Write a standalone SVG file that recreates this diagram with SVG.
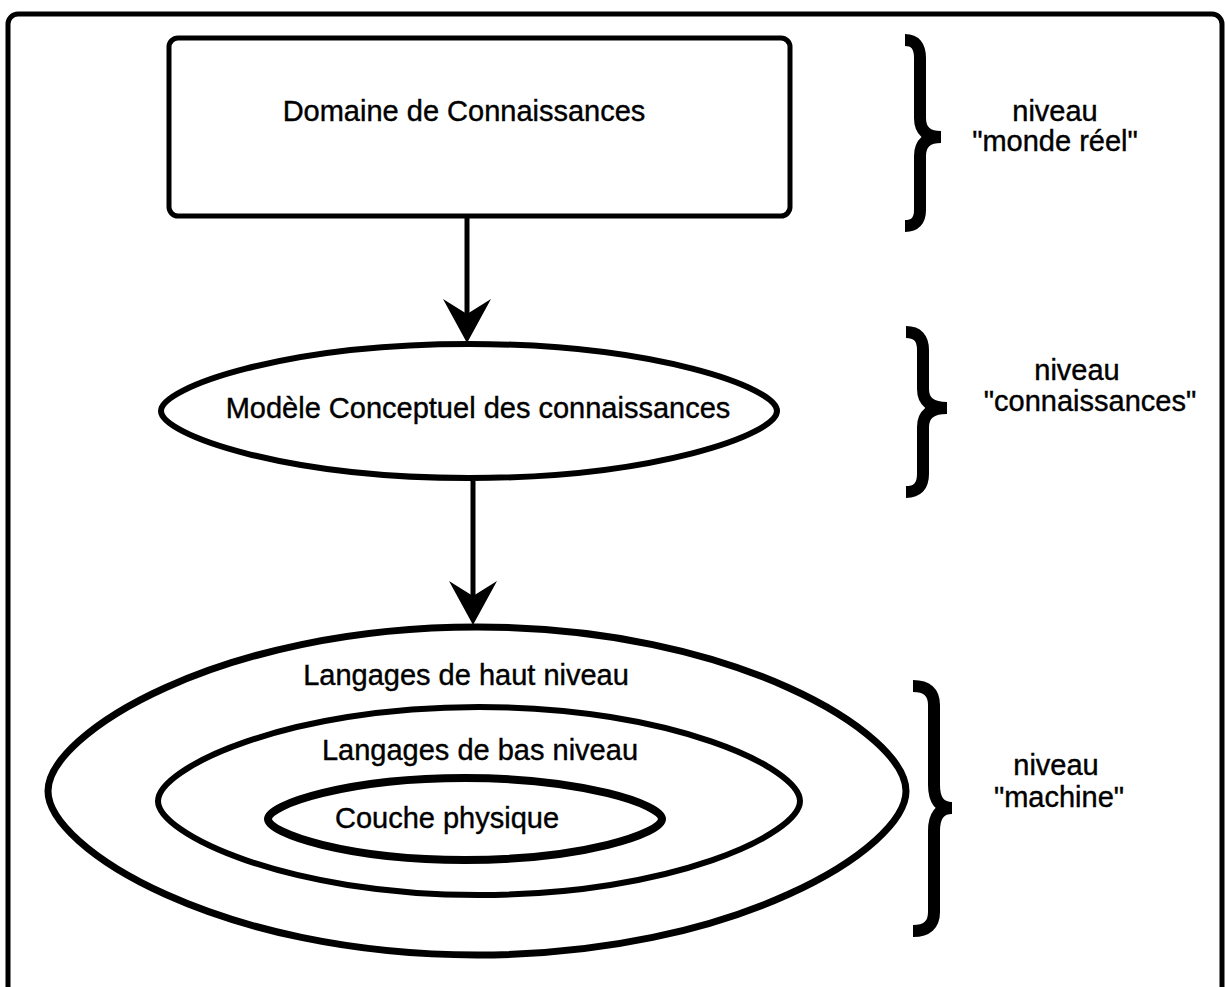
<svg xmlns="http://www.w3.org/2000/svg" width="1225" height="987" viewBox="0 0 1225 987">
<style>
.lbl{font-family:"Liberation Sans",Arial,Helvetica,sans-serif;font-size:29px;fill:#000;stroke:#000;stroke-width:0.4;text-anchor:middle}
.shape{fill:none;stroke:#000}
.brace{fill:none;stroke:#000;stroke-width:12;stroke-linejoin:bevel}
.conn{stroke:#000;stroke-width:5;fill:none}
</style>
<defs>
<marker id="ah" markerUnits="userSpaceOnUse" viewBox="0 0 44 48" markerWidth="44" markerHeight="48" refX="28" refY="24" orient="auto">
<path d="M0,0 L44,24 L0,48 L15,24 Z" fill="#000"/>
</marker>
</defs>
<rect width="1225" height="987" fill="#fff"/>
<rect id="frame" x="8" y="14" width="1214" height="1010" rx="10" class="shape" stroke-width="5"/>

<g id="domaine">
<rect x="169" y="38" width="621" height="178" rx="9" class="shape" stroke-width="5"/>
<text class="lbl" x="464" y="121">Domaine de Connaissances</text>
</g>

<g id="modele">
<path class="shape" stroke-width="6" d="M161,411 C161,387.55 284.2,344 469,344 C653.8,344 777,387.55 777,411 C777,434.45 653.8,478 469,478 C284.2,478 161,434.45 161,411 Z"/>
<text class="lbl" x="478" y="418">Modèle Conceptuel des connaissances</text>
</g>

<g id="haut-niveau">
<path class="shape" stroke-width="7" d="M48,791 C48,733.6 219.6,627 477,627 C734.4,627 906,733.6 906,791 C906,848.4 734.4,955 477,955 C219.6,955 48,848.4 48,791 Z"/>
<text class="lbl" x="466" y="685">Langages de haut niveau</text>
</g>

<g id="bas-niveau">
<path class="shape" stroke-width="6" d="M158,801 C158,768.1 286.4,707 479,707 C671.6,707 800,768.1 800,801 C800,833.9 671.6,895 479,895 C286.4,895 158,833.9 158,801 Z"/>
<text class="lbl" x="480" y="760">Langages de bas niveau</text>
</g>

<g id="couche-physique">
<path class="shape" stroke-width="8" d="M268,819 C268,804.65 346.8,778 465,778 C583.2,778 662,804.65 662,819 C662,833.35 583.2,860 465,860 C346.8,860 268,833.35 268,819 Z"/>
<text class="lbl" x="447" y="828">Couche physique</text>
</g>

<g id="connectors">
<line class="conn" x1="467" y1="218" x2="467" y2="327" marker-end="url(#ah)"/>
<line class="conn" x1="473" y1="481" x2="473" y2="609" marker-end="url(#ah)"/>
</g>

<g id="niveau-monde-reel">
<path class="brace" d="M905,40 Q920,40 920,58 L920,118 Q920,137 941,137 Q920,137 920,156 L920,210 Q920,226 905,226"/>
<text class="lbl" x="1055" y="121">niveau</text>
<text class="lbl" x="1055" y="151">"monde réel"</text>
</g>

<g id="niveau-connaissances">
<path class="brace" d="M906,332 Q923,332 923,350 L923,389 Q923,408 947,408 Q923,408 923,427 L923,474 Q923,492 906,492"/>
<text class="lbl" x="1077" y="380">niveau</text>
<text class="lbl" x="1090" y="411">"connaissances"</text>
</g>

<g id="niveau-machine">
<path class="brace" d="M913,686 Q934,686 934,705 L934,785 Q934,808 952,808 Q934,808 934,831 L934,912 Q934,931 913,931"/>
<text class="lbl" x="1056" y="775">niveau</text>
<text class="lbl" x="1059" y="807">"machine"</text>
</g>
</svg>
